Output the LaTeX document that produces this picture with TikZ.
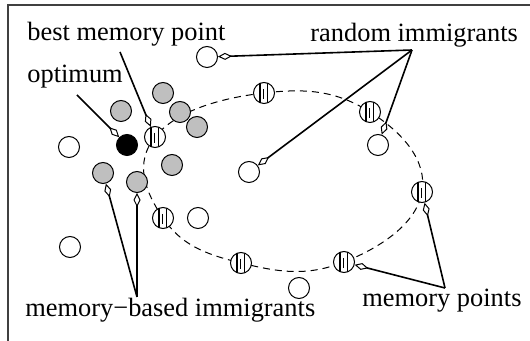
\documentclass[tikz,border=0pt]{standalone}
\usepackage{fontspec}
\setmainfont{Liberation Serif}
\usetikzlibrary{arrows.meta}

\begin{document}
\begin{tikzpicture}[x=0.5pt, y=-0.5pt,
        dot/.style={circle, draw=black, line width=0.5pt, minimum size=10.5pt, inner sep=0pt},
        memimm/.style={dot, fill=black!25},
        optpt/.style={dot, fill=black},
        rndimm/.style={dot, fill=white},
        mempt/.style={dot, fill=white, path picture={
            \draw[line width=0.55pt] ([xshift=-2pt]path picture bounding box.north) -- ([xshift=-2pt]path picture bounding box.south);
            \draw[line width=0.55pt] ([xshift=1.6pt]path picture bounding box.north) -- ([xshift=1.6pt]path picture bounding box.south);
            \draw[line width=0.45pt] ([xshift=-0.3pt,yshift=2pt]path picture bounding box.center) -- ([xshift=-0.3pt,yshift=-3pt]path picture bounding box.center);}},
        lbl/.style={anchor=base west, inner sep=0pt, font=\fontsize{13.2}{15}\selectfont},
        ptr/.style={line width=0.8pt, -{Diamond[open, length=7pt, width=3.5pt, line width=0.5pt]}}
      ]
        \useasboundingbox (0,0) rectangle (530,341);
        \draw[line width=0.6pt, black!75] (530,5) -- (8,5) -- (8,341);

        % memory points and the dashed curve through them
        \coordinate (m1) at (155,137);
        \coordinate (m2) at (264,93);
        \coordinate (m3) at (370,112);
        \coordinate (m4) at (422,192);
        \coordinate (m5) at (344,262);
        \coordinate (m6) at (241,263);
        \coordinate (m7) at (163,218);
        \draw[line width=0.5pt, dash pattern=on 3.5pt off 2.5pt]
            plot[smooth cycle, tension=0.75] coordinates {(m1) (m2) (m3) (m4) (m5) (m6) (m7)};
        \foreach \m in {m1,m2,m3,m4,m5,m6,m7}
            \node[mempt] (p\m) at (\m) {};

        % memory-based immigrants
        \node[memimm] (g1) at (121,111) {};
        \node[memimm] (g2) at (163,93)  {};
        \node[memimm] (g3) at (180,112) {};
        \node[memimm] (g4) at (197,127) {};
        \node[memimm] (g5) at (172,165) {};
        \node[memimm] (g6) at (103,173) {};
        \node[memimm] (g7) at (137,182) {};

        \node[optpt] (opt) at (127,145) {};

        % random immigrants
        \node[rndimm] (w1) at (207,57)  {};
        \node[rndimm] (w2) at (69,147)  {};
        \node[rndimm] (w3) at (70,247)  {};
        \node[rndimm] (w4) at (198,218) {};
        \node[rndimm] (w5) at (249,172) {};
        \node[rndimm] (w6) at (378,145) {};
        \node[rndimm] (w7) at (299,288) {};

        % labels
        \node[lbl] (bmp) at (27,41)  {best memory point};
        \node[lbl] (optl) at (27,83) {optimum};
        \node[lbl] (rnd) at (310,42) {random immigrants};
        \node[lbl] (mbi) at (25,317) {memory−based immigrants};
        \node[lbl] (mpl) at (362,307) {memory points};

        \coordinate (bmpA) at (120,52);
        \coordinate (optA) at (77,95);
        \coordinate (rndA) at (412,50);
        \coordinate (mbiA) at (137,297);
        \coordinate (mplA) at (445,288);

        \draw[ptr] (bmpA) -- (pm1);
        \draw[ptr] (optA) -- (opt);
        \draw[ptr] (rndA) -- (w1);
        \draw[ptr] (rndA) -- (w5);
        \draw[ptr] (rndA) -- (w6);
        \draw[ptr] (mbiA) -- (g6);
        \draw[ptr] (mbiA) -- (g7);
        \draw[ptr] (mplA) -- (pm5);
        \draw[ptr] (mplA) -- (pm4);
      \end{tikzpicture}
\end{document}
